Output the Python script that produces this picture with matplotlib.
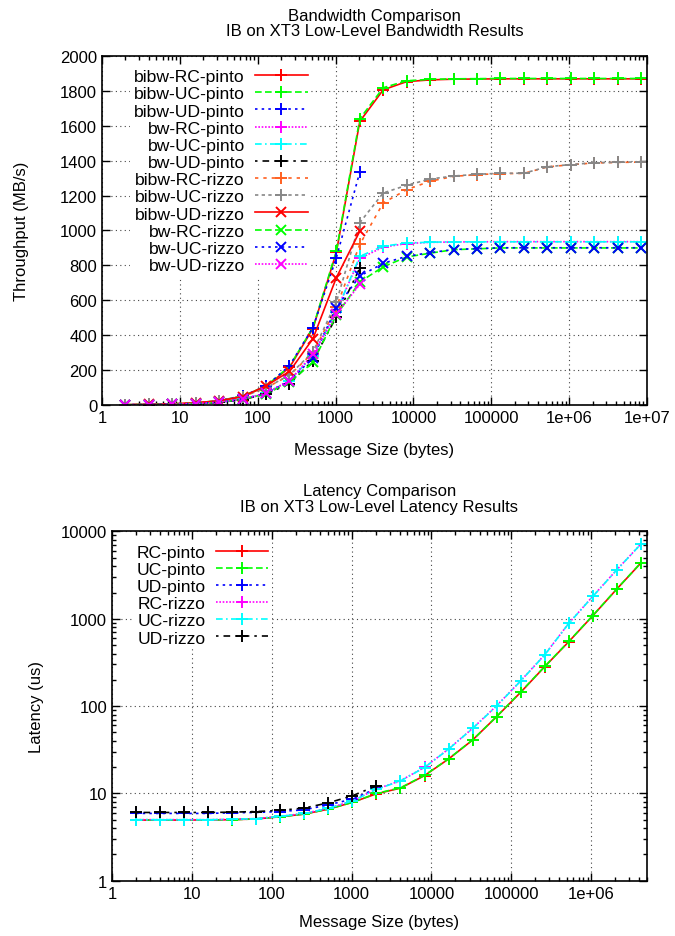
import numpy as np
import matplotlib.pyplot as plt
from matplotlib.ticker import FixedLocator, FixedFormatter, LogLocator, NullFormatter

plt.rcParams['font.family'] = ['Liberation Sans', 'DejaVu Sans']
plt.rcParams['font.size'] = 12

# message sizes (bytes)
sizes = [2 ** k for k in range(1, 24)]
sizes_ud = sizes[:11]
lat_sizes = [2 ** k for k in range(1, 23)]
lat_sizes_ud = lat_sizes[:11]

# bandwidth (MB/s)
bibw_rc_pinto = [1.5, 3, 6, 12, 24, 50, 105, 215, 438, 875, 1625, 1806, 1853, 1863, 1867, 1868,
                 1869, 1869, 1869, 1869, 1869, 1869, 1869]
bibw_uc_pinto = [1.5, 3, 6, 12, 25, 52, 108, 222, 444, 882, 1640, 1818, 1858, 1866, 1869, 1870,
                 1871, 1871, 1871, 1871, 1871, 1871, 1871]
bibw_ud_pinto = [1.5, 3, 6, 12, 25, 52, 108, 225, 444, 844, 1335]
bw_rc_pinto = [1, 2, 4, 8, 16, 33, 68, 140, 285, 540, 840, 905, 925, 932, 934, 935,
               936, 936, 936, 936, 936, 936, 936]
bw_uc_pinto = [1, 2, 4, 8, 16, 33, 68, 138, 282, 535, 852, 910, 928, 933, 935, 935,
               935, 935, 935, 935, 935, 935, 935]
bw_ud_pinto = [1, 2, 4, 8, 15, 31, 63, 122, 255, 505, 785]
bibw_rc_rizzo = [1.5, 3, 6, 12, 24, 48, 98, 170, 300, 560, 920, 1158, 1234, 1282, 1310, 1320,
                 1326, 1327, 1364, 1377, 1387, 1390, 1392]
bibw_uc_rizzo = [1.5, 3, 6, 12, 24, 48, 98, 172, 305, 590, 1045, 1215, 1259, 1295, 1312, 1322,
                 1328, 1328, 1365, 1378, 1388, 1391, 1393]
bibw_ud_rizzo = [1.5, 3, 6, 12, 24, 48, 110, 192, 380, 730, 996]
bw_rc_rizzo = [1, 2, 4, 8, 16, 32, 64, 130, 244, 515, 705, 792, 848, 870, 890, 895,
               900, 900, 900, 900, 900, 900, 900]
bw_uc_rizzo = [1, 2, 4, 8, 16, 33, 68, 138, 270, 558, 739, 812, 852, 873, 891, 896,
               901, 901, 901, 901, 901, 901, 901]
bw_ud_rizzo = [1, 2, 4, 8, 16, 33, 68, 139, 291, 520, 691]

# latency (us)
rc_pinto = [4.95, 4.95, 4.95, 4.97, 5.0, 5.1, 5.4, 5.8, 6.6, 7.9, 9.9, 11.5, 16, 24.8, 40.9,
            75.7, 144, 283, 547, 1085, 2195, 4360]
uc_pinto = [4.95, 4.95, 4.95, 4.97, 5.0, 5.1, 5.4, 5.8, 6.6, 7.9, 10.0, 11.6, 16.1, 24.9, 41,
            76, 145, 285, 550, 1090, 2200, 4380]
ud_pinto = [5.9, 5.9, 5.9, 5.9, 6.0, 6.05, 6.2, 6.5, 7.4, 8.6, 11.4]
rc_rizzo = [5.0, 5.0, 5.0, 5.0, 5.05, 5.15, 5.45, 5.9, 6.75, 8.2, 11.2, 14, 19.9, 32.3, 55.7,
            101, 195, 388, 888, 1811, 3650, 7190]
uc_rizzo = [5.0, 5.0, 5.0, 5.0, 5.05, 5.15, 5.45, 5.9, 6.75, 8.2, 11.1, 13.9, 19.8, 32.1, 55.5,
            100, 194, 386, 885, 1805, 3640, 7170]
ud_rizzo = [6.05, 6.05, 6.05, 6.05, 6.1, 6.2, 6.4, 6.8, 7.8, 9.4, 12.2]

styles = [
    ('red', '-'),
    ('#00ff00', (0, (4, 2))),
    ('blue', (0, (1.5, 2.5))),
    ('magenta', (0, (1, 1))),
    ('cyan', (0, (4, 2, 1, 2))),
    ('black', (0, (1.5, 3, 4, 3))),
    ('#ff6020', (0, (2, 3))),
    ('#888888', (0, (2, 2))),
]

fig = plt.figure(figsize=(6.75, 9.37), dpi=100)


def style_axes(ax):
    ax.tick_params(which='both', direction='in', top=True, right=True, labelsize=12)
    ax.tick_params(which='major', length=6, width=1)
    ax.tick_params(which='minor', length=3, width=1)
    ax.grid(True, which='major', linestyle=(0, (1, 3)), color='#444444', linewidth=0.8)
    for s in ax.spines.values():
        s.set_linewidth(1.2)


# ---- bandwidth
ax1 = fig.add_axes([0.1511, 0.5667, 0.8074, 0.3725])
bw_series = [
    ('bibw-RC-pinto', sizes, bibw_rc_pinto, '+', 0),
    ('bibw-UC-pinto', sizes, bibw_uc_pinto, '+', 1),
    ('bibw-UD-pinto', sizes_ud, bibw_ud_pinto, '+', 2),
    ('bw-RC-pinto', sizes, bw_rc_pinto, '+', 3),
    ('bw-UC-pinto', sizes, bw_uc_pinto, '+', 4),
    ('bw-UD-pinto', sizes_ud, bw_ud_pinto, '+', 5),
    ('bibw-RC-rizzo', sizes, bibw_rc_rizzo, '+', 6),
    ('bibw-UC-rizzo', sizes, bibw_uc_rizzo, '+', 7),
    ('bibw-UD-rizzo', sizes_ud, bibw_ud_rizzo, 'x', 0),
    ('bw-RC-rizzo', sizes, bw_rc_rizzo, 'x', 1),
    ('bw-UC-rizzo', sizes, bw_uc_rizzo, 'x', 2),
    ('bw-UD-rizzo', sizes_ud, bw_ud_rizzo, 'x', 3),
]
for name, xs, ys, mk, si in bw_series:
    c, ls = styles[si]
    ax1.plot(xs, ys, color=c, linestyle=ls, linewidth=1.2, marker=mk,
             markersize=8 if mk == '+' else 6.5, markeredgewidth=1.4, label=name)
ax1.set_xscale('log')
ax1.set_xlim(1, 1e7)
ax1.set_ylim(0, 2000)
ax1.set_yticks(np.arange(0, 2001, 200))
ax1.xaxis.set_major_locator(FixedLocator([1, 10, 100, 1e3, 1e4, 1e5, 1e6, 1e7]))
ax1.xaxis.set_major_formatter(FixedFormatter(['1', '10', '100', '1000', '10000', '100000',
                                              '1e+06', '1e+07']))
ax1.xaxis.set_minor_locator(LogLocator(base=10, subs=np.arange(2, 10), numticks=20))
ax1.xaxis.set_minor_formatter(NullFormatter())
style_axes(ax1)
ax1.set_xlabel('Message Size (bytes)', labelpad=12)
ax1.set_ylabel('Throughput (MB/s)', labelpad=22)
ax1.set_title('Bandwidth Comparison\nIB on XT3 Low-Level Bandwidth Results', fontsize=12,
              pad=15, linespacing=1.05)
leg1 = ax1.legend(loc='upper right', bbox_to_anchor=(0.40, 0.998), markerfirst=False,
                  frameon=True, framealpha=1, edgecolor='none', fancybox=False,
                  handlelength=3.0, handletextpad=0.6, labelspacing=0.11, borderpad=0.2,
                  fontsize=12.6)

# ---- latency
ax2 = fig.add_axes([0.1659, 0.0590, 0.7926, 0.3727])
lat_series = [
    ('RC-pinto', lat_sizes, rc_pinto, 0),
    ('UC-pinto', lat_sizes, uc_pinto, 1),
    ('UD-pinto', lat_sizes_ud, ud_pinto, 2),
    ('RC-rizzo', lat_sizes, rc_rizzo, 3),
    ('UC-rizzo', lat_sizes, uc_rizzo, 4),
    ('UD-rizzo', lat_sizes_ud, ud_rizzo, 5),
]
for name, xs, ys, si in lat_series:
    c, ls = styles[si]
    ax2.plot(xs, ys, color=c, linestyle=ls, linewidth=1.2, marker='+', markersize=8,
             markeredgewidth=1.4, label=name)
ax2.set_xscale('log')
ax2.set_yscale('log')
ax2.set_xlim(1, 5e6)
ax2.set_ylim(1, 10000)
ax2.xaxis.set_major_locator(FixedLocator([1, 10, 100, 1e3, 1e4, 1e5, 1e6]))
ax2.xaxis.set_major_formatter(FixedFormatter(['1', '10', '100', '1000', '10000', '100000',
                                              '1e+06']))
ax2.yaxis.set_major_locator(FixedLocator([1, 10, 100, 1000, 10000]))
ax2.yaxis.set_major_formatter(FixedFormatter(['1', '10', '100', '1000', '10000']))
for a in (ax2.xaxis, ax2.yaxis):
    a.set_minor_locator(LogLocator(base=10, subs=np.arange(2, 10), numticks=20))
    a.set_minor_formatter(NullFormatter())
style_axes(ax2)
ax2.set_xlabel('Message Size (bytes)', labelpad=10)
ax2.set_ylabel('Latency (us)', labelpad=12)
ax2.set_title('Latency Comparison\nIB on XT3 Low-Level Latency Results', fontsize=12,
              pad=15, linespacing=1.05)
leg2 = ax2.legend(loc='upper right', bbox_to_anchor=(0.315, 0.998), markerfirst=False,
                  frameon=True, framealpha=1, edgecolor='none', fancybox=False,
                  handlelength=3.0, handletextpad=0.6, labelspacing=0.11, borderpad=0.2,
                  fontsize=12.6)

fig.savefig('out.png', dpi=100)
